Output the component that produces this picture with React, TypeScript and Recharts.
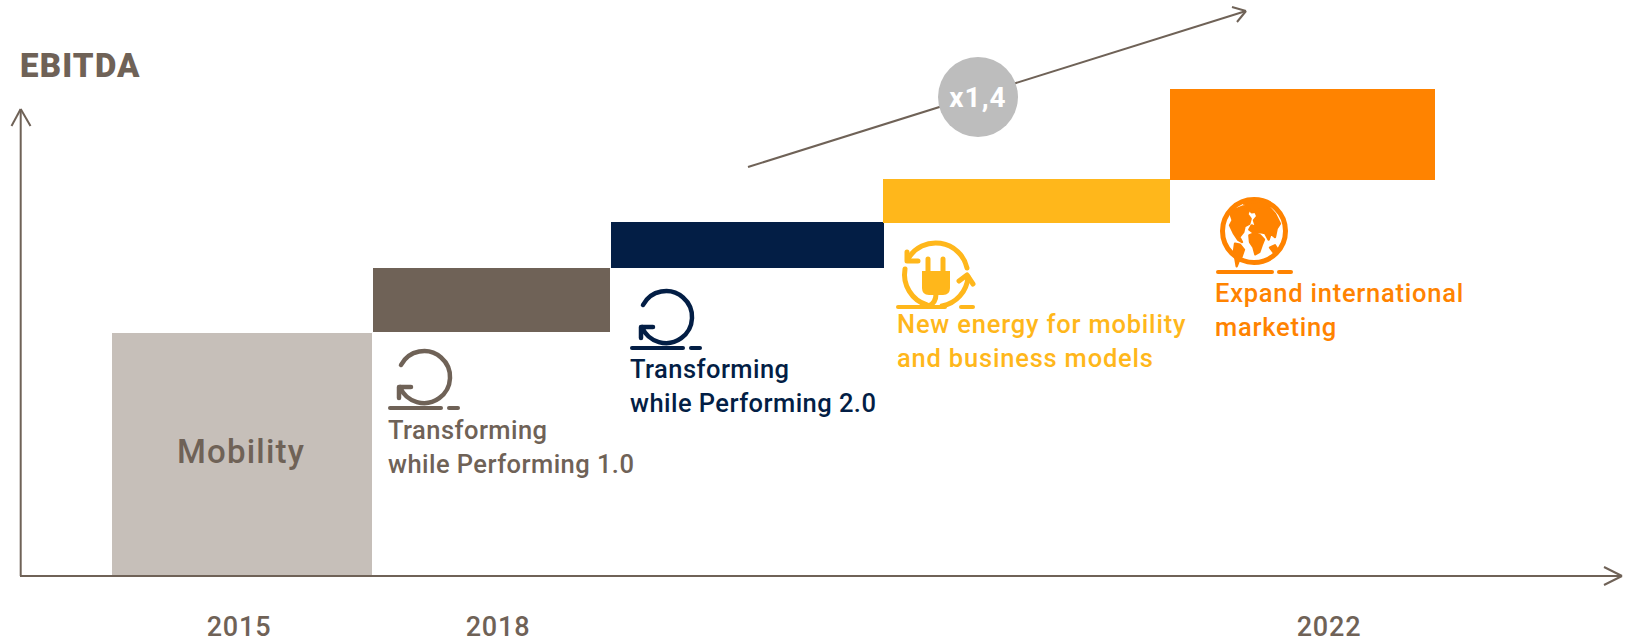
import React from 'react';
import { ComposedChart, Area, XAxis, YAxis, ReferenceLine, ReferenceDot } from 'recharts';

const INK = '#6f6257';
const FONT = 'Roboto, sans-serif';

// Stages of the staircase, left edge / right edge on the horizontal scale
const stageNames = ['Mobility', 'TwP 1.0', 'TwP 2.0', 'New energy', 'International'];
const stageStart = [92, 353, 591, 863, 1150];
const stageEnd = [352, 590, 864, 1150, 1415];
const stageLow = [0, 244, 308, 353, 396];
const stageHigh = [243, 308, 354, 397, 487];

const yearTicks = [219, 478, 1309];
const yearLabels = ['2015', '2018', '2022'];

const captionLines = [
  ['Transforming', 'while Performing 1.0'],
  ['Transforming', 'while Performing 2.0'],
  ['New energy for mobility', 'and business models'],
  ['Expand international', 'marketing'],
];

const stageColors = ['#c6bfb9', '#6f6257', '#031e45', '#ffb71b', '#ff8300'];

const rows: Record<string, number | number[]>[] = [];
stageNames.forEach((_, i) => {
  rows.push({ x: stageStart[i], [`s${i}`]: [stageLow[i], stageHigh[i]] });
  rows.push({ x: stageEnd[i], [`s${i}`]: [stageLow[i], stageHigh[i]] });
});

// where each caption sits, one entry per captionLines row
const captionStyles = [
  { x: 368, y: 137, color: '#6f6257', spacing: 0.45 },
  { x: 610, y: 198, color: '#031e45', spacing: 0.45 },
  { x: 877, y: 243, color: '#ffb71b', spacing: 0.8 },
  { x: 1195, y: 274, color: '#ff8300', spacing: 0.75 },
];

const Underline = ({ color, dashFrom, dashTo, end }: any) => (
  <g stroke={color} strokeWidth={4} strokeLinecap="round" fill="none">
    <path d={`M1 0H${end}`} />
    <path d={`M${dashFrom} 0H${dashTo}`} />
  </g>
);

// cycle icon, origin at the left end of its underline
const CycleIcon = ({ cx, cy, color }: any) => (
  <g transform={`translate(${cx},${cy})`}>
    <Underline color={color} end={52} dashFrom={60} dashTo={69} />
    <g stroke={color} strokeWidth={4.5} strokeLinecap="round" strokeLinejoin="round" fill="none">
      <path d="M12 -43A26 26 0 1 1 11 -21" />
      <path d="M22 -21H10V-10" />
    </g>
  </g>
);

const PlugIcon = ({ cx, cy, color }: any) => (
  <g transform={`translate(${cx},${cy})`}>
    <Underline color={color} end={48} dashFrom={64} dashTo={76} />
    <g stroke={color} strokeWidth={5} strokeLinecap="round" strokeLinejoin="round" fill="none">
      <path d="M11 -48A32 32 0 0 1 70 -39" />
      <path d="M8 -38A32 32 0 0 0 30 -2" />
      <path d="M71 -30A32 32 0 0 1 45 -1" />
      <path d="M21 -46H10V-55" />
      <path d="M62 -26L70 -32L76 -23" />
      <path d="M31 -48V-36M46 -48V-36" />
      <path d="M39 -13C39 -7 36 -3 32 -1" />
    </g>
    <path d="M25 -36H53V-19Q53 -12 46 -12H32Q25 -12 25 -19Z" fill={color} />
  </g>
);

const GlobeIcon = ({ cx, cy, color }: any) => (
  <g transform={`translate(${cx},${cy})`}>
    <Underline color={color} end={55} dashFrom={62} dashTo={74} />
    <circle cx={37} cy={-41} r={31.5} fill="#fff" stroke={color} strokeWidth={5} />
    <g fill={color} stroke={color} strokeWidth={7} strokeLinejoin="round" transform="translate(-7,-81.67) scale(0.3333)">
      <path d="M62 72L75 58L100 48L118 58L112 72L122 85L118 100L104 108L100 125L88 140L96 155L84 148L72 130L60 105L68 90Z" />
      <path d="M100 38L160 32L178 48L150 62L125 66Z" />
      <path d="M135 62L160 56L175 48L195 70L210 100L200 115L195 140L182 130L176 148L165 128L150 125L132 128L118 118L125 105L138 110L132 90L142 78Z" />
      <path d="M118 135L135 128L150 135L162 148L155 165L148 185L136 192L130 170L120 155Z" />
      <path d="M75 160L90 163L102 178L95 198L85 215L80 228L76 205L72 182Z" />
      <path d="M180 172L195 165L203 178L190 185Z" />
    </g>
  </g>
);

const iconShapes = [
  { x: 369, y: 168, color: '#6f6257', Icon: CycleIcon },
  { x: 611, y: 228, color: '#031e45', Icon: CycleIcon },
  { x: 877, y: 269, color: '#ffb71b', Icon: PlugIcon },
  { x: 1197, y: 304, color: '#ff8300', Icon: GlobeIcon },
];

const CaptionShape = ({ cx, cy, lines, color, spacing }: any) => (
  <text x={cx} y={cy} fill={color} fontFamily={FONT} fontSize={25.5} fontWeight={500} letterSpacing={spacing}>
    {lines.map((line: string, i: number) => (
      <tspan key={line} x={cx} y={cy + i * 34}>
        {line}
      </tspan>
    ))}
  </text>
);

const Arrow = ({ points }: { points: number[][] }) => (
  <>
    {points.slice(1).map((p, i) => (
      <ReferenceLine
        key={i}
        segment={[
          { x: points[0][0], y: points[0][1] },
          { x: p[0], y: p[1] },
        ]}
        stroke={INK}
        strokeWidth={2}
        ifOverflow="visible"
      />
    ))}
  </>
);

const YearTick = ({ x, y, payload, index }: any) => (
  <text x={x} y={y + 52} textAnchor="middle" fill={INK} fontFamily={FONT} fontSize={27} fontWeight={500} letterSpacing={0.8}>
    {yearLabels[index] ?? payload.value}
  </text>
);

export default function App() {
  return (
    <div style={{ position: 'absolute', left: 0, top: 0, background: '#fff' }}>
      <ComposedChart width={1631} height={643} data={rows} margin={{ top: 0, right: 9, bottom: 0, left: 0 }}>
        <XAxis
          type="number"
          dataKey="x"
          domain={[0, 1602]}
          ticks={yearTicks}
          interval={0}
          tick={<YearTick />}
          tickLine={false}
          axisLine={false}
          height={67}
        />
        <YAxis type="number" domain={[0, 576]} width={20} tick={false} tickLine={false} axisLine={false} />

        {stageNames.map((_, i) => (
          <Area
            key={i}
            type="linear"
            dataKey={`s${i}`}
            fill={stageColors[i]}
            fillOpacity={1}
            stroke="none"
            dot={false}
            activeDot={false}
            isAnimationActive={false}
          />
        ))}

        {Arrow({ points: [[0.7, 467], [0.7, 0]] })}
        {Arrow({ points: [[0.7, 467], [-8.5, 450]] })}
        {Arrow({ points: [[0.7, 467], [10.5, 450]] })}
        {Arrow({ points: [[1602, 0], [0, 0]] })}
        {Arrow({ points: [[1602, 0], [1584, 9]] })}
        {Arrow({ points: [[1602, 0], [1584, -9]] })}
        {Arrow({ points: [[1226, 565], [728, 409]] })}
        {Arrow({ points: [[1226, 565], [1212, 569]] })}
        {Arrow({ points: [[1226, 565], [1217, 554]] })}

        <ReferenceDot x={958} y={479} r={40} fill="#bdbdbd" stroke="none" ifOverflow="visible" />
        <ReferenceDot
          x={958}
          y={479}
          ifOverflow="visible"
          shape={({ cx, cy }: any) => (
            <text x={cx} y={cy + 10} textAnchor="middle" fill="#fff" fontFamily={FONT} fontSize={28} fontWeight={700} letterSpacing={1}>
              x1,4
            </text>
          )}
        />
        <ReferenceDot
          x={0}
          y={499}
          ifOverflow="visible"
          shape={({ cx, cy }: any) => (
            <text x={cx} y={cy} fill={INK} fontFamily={FONT} fontSize={33} fontWeight={900} letterSpacing={1.2}>
              EBITDA
            </text>
          )}
        />
        <ReferenceDot
          x={221}
          y={113}
          ifOverflow="visible"
          shape={({ cx, cy }: any) => (
            <text x={cx} y={cy} textAnchor="middle" fill={INK} fontFamily={FONT} fontSize={33} fontWeight={500} letterSpacing={1.2}>
              {stageNames[0]}
            </text>
          )}
        />

        {captionStyles.map((c, i) => (
          <ReferenceDot
            key={c.x}
            x={c.x}
            y={c.y}
            ifOverflow="visible"
            shape={(p: any) => (
              <CaptionShape cx={p.cx} cy={p.cy} lines={captionLines[i]} color={c.color} spacing={c.spacing} />
            )}
          />
        ))}
        {iconShapes.map((c) => (
          <ReferenceDot
            key={c.x}
            x={c.x}
            y={c.y}
            ifOverflow="visible"
            shape={(p: any) => <c.Icon cx={p.cx} cy={p.cy} color={c.color} />}
          />
        ))}
      </ComposedChart>
    </div>
  );
}
